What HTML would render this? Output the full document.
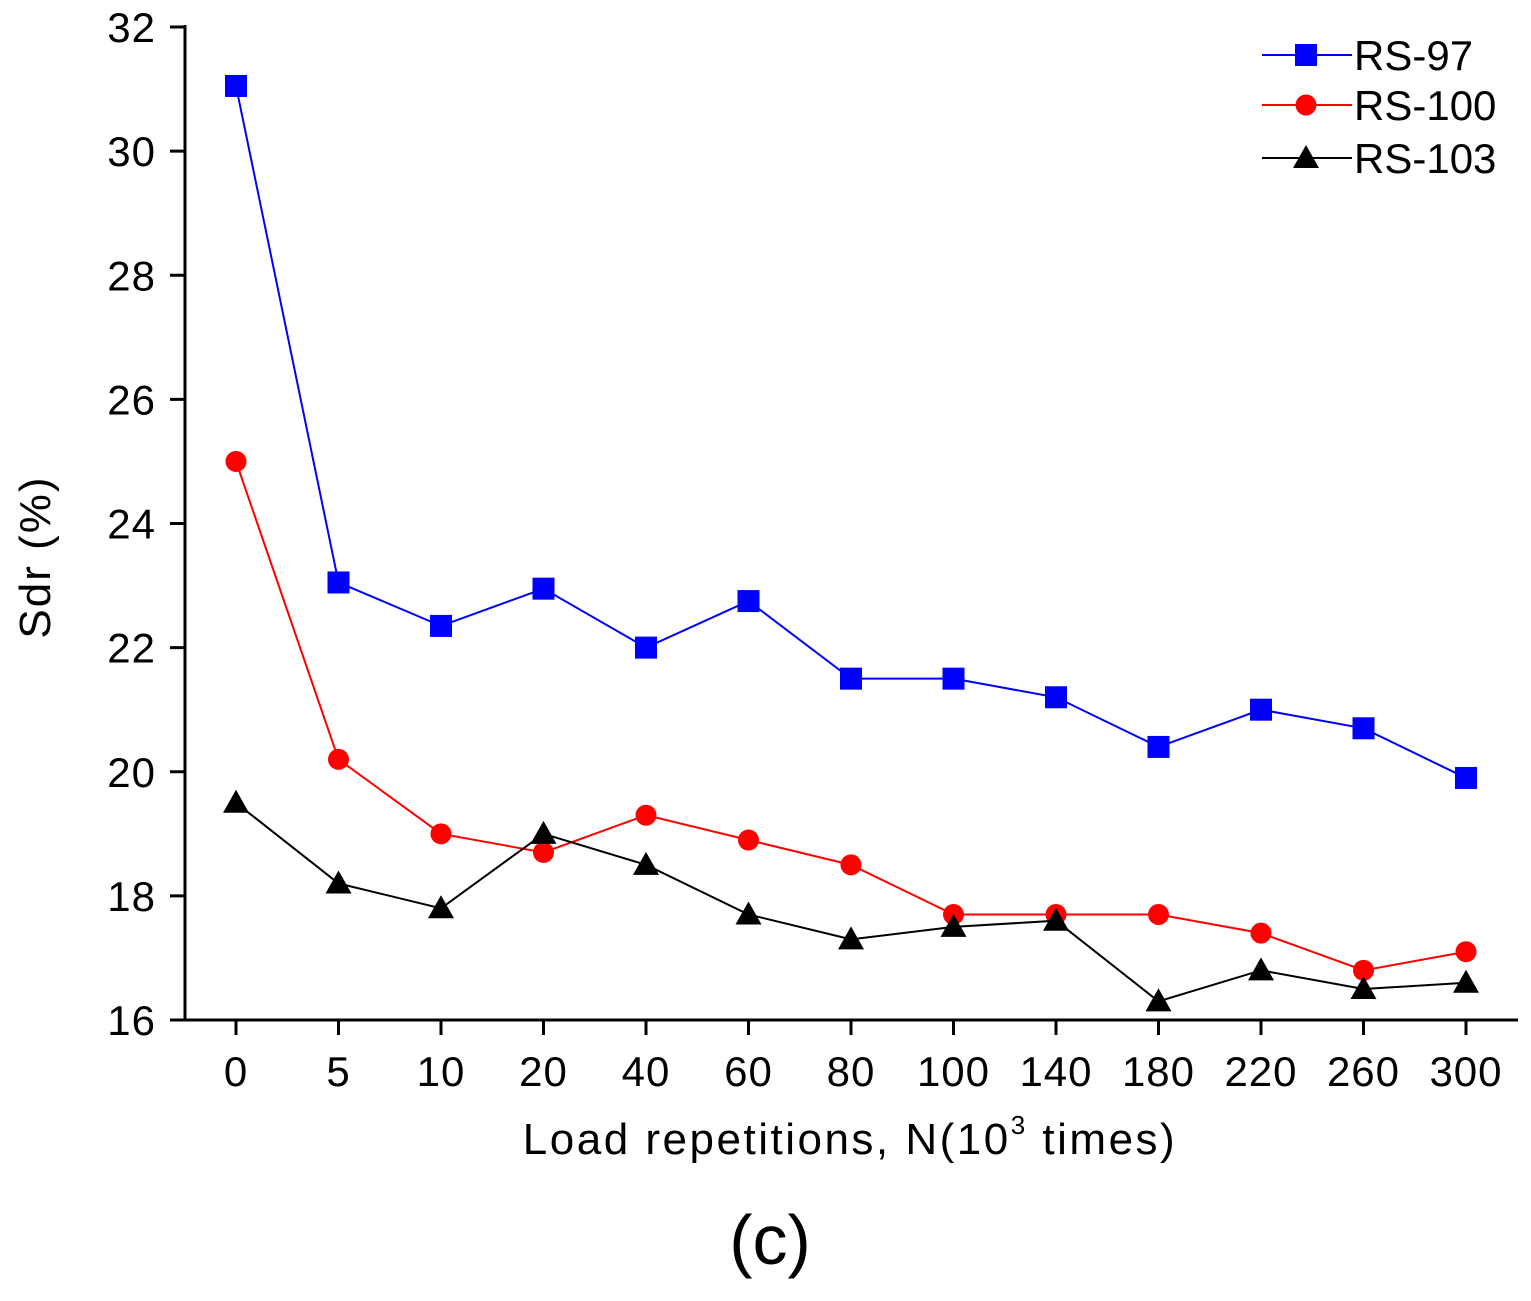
<!DOCTYPE html>
<html><head><meta charset="utf-8"><style>
body{margin:0;background:#fff}
svg{display:block}
text{font-family:"Liberation Sans",Arial,sans-serif;fill:#000}
</style></head><body>
<svg id="c" width="1531" height="1301" xmlns="http://www.w3.org/2000/svg"></svg>
<script>
const categories=["0","5","10","20","40","60","80","100","140","180","220","260","300"];
const rs97=[31.05,23.05,22.35,22.95,22.0,22.75,21.5,21.5,21.2,20.4,21.0,20.7,19.9];
const rs100=[25.0,20.2,19.0,18.7,19.3,18.9,18.5,17.7,17.7,17.7,17.4,16.8,17.1];
const rs103=[19.5,18.2,17.8,19.0,18.5,17.7,17.3,17.5,17.6,16.3,16.8,16.5,16.6];
const yTicks=[16,18,20,22,24,26,28,30,32];
const NS="http://www.w3.org/2000/svg";
const svg=document.getElementById('c');
function yS(v){return 1020-(v-16)*(993/16);}
function xS(i){return 236+i*102.5;}
function mk(t,a,p){const e=document.createElementNS(NS,t);for(const k in a)e.setAttribute(k,a[k]);(p||svg).appendChild(e);return e;}
let ax=mk('line',{x1:185,y1:1020,x2:1518,y2:1020,stroke:'#000','stroke-width':3});


let ay=mk('line',{x1:185,y1:1021,x2:185,y2:25,stroke:'#000','stroke-width':3});


yTicks.forEach(v=>{
 mk('line',{x1:170,y1:yS(v),x2:185,y2:yS(v),stroke:'#000','stroke-width':3});
 let t=mk('text',{x:156,y:yS(v)+15,'text-anchor':'end','font-size':42,'letter-spacing':1});t.textContent=v;
 
 
});
categories.forEach((c,i)=>{
 mk('line',{x1:xS(i),y1:1020,x2:xS(i),y2:1035,stroke:'#000','stroke-width':3});
 let t=mk('text',{x:xS(i),y:1086,'text-anchor':'middle','font-size':42,'letter-spacing':1});t.textContent=c;
 
 
});
let yt=mk('text',{x:0,y:0,'font-size':44,'letter-spacing':2,'text-anchor':'middle',transform:'translate(50,557) rotate(-90)'});yt.textContent='Sdr (%)';


let xt=mk('text',{x:850,y:1154,'font-size':44,'letter-spacing':2.5,'text-anchor':'middle'});
xt.innerHTML='Load repetitions, N(10<tspan dy="-20" font-size="26">3</tspan><tspan dy="20"> times)</tspan>';


let cap=mk('text',{x:770,y:1264,'font-size':70,'text-anchor':'middle','font-family':'"Liberation Serif",serif'});cap.textContent='(c)';


function marker(g,type,x,y,col){
 if(type==='sq')return mk('rect',{x:x-11,y:y-11,width:22,height:22,fill:col},g);
 if(type==='ci')return mk('circle',{cx:x,cy:y,r:10.5,fill:col},g);
 return mk('polygon',{points:`${x},${y-13} ${x-13},${y+10} ${x+13},${y+10}`,fill:col},g);
}
const series=[[rs97,'#0000ff','sq','RS-97',55],[rs100,'#ff0000','ci','RS-100',105],[rs103,'#000000','tr','RS-103',158]];
series.forEach(([d,col,type,name,ly])=>{
 const g=mk('g',{});
 
 
 mk('polyline',{points:d.map((v,i)=>xS(i)+','+yS(v)).join(' '),fill:'none',stroke:col,'stroke-width':2},g);
 d.forEach((v,i)=>{const m=marker(g,type,xS(i),yS(v),col);
  
  });
 const lg=mk('g',{});
 
 
 mk('line',{x1:1262,y1:ly,x2:1352,y2:ly,stroke:col,'stroke-width':2},lg);
 marker(lg,type,1306,ly,col);
 const t=mk('text',{x:1354,y:ly+15,'font-size':42},lg);t.textContent=name;
});
</script>
</body></html>
